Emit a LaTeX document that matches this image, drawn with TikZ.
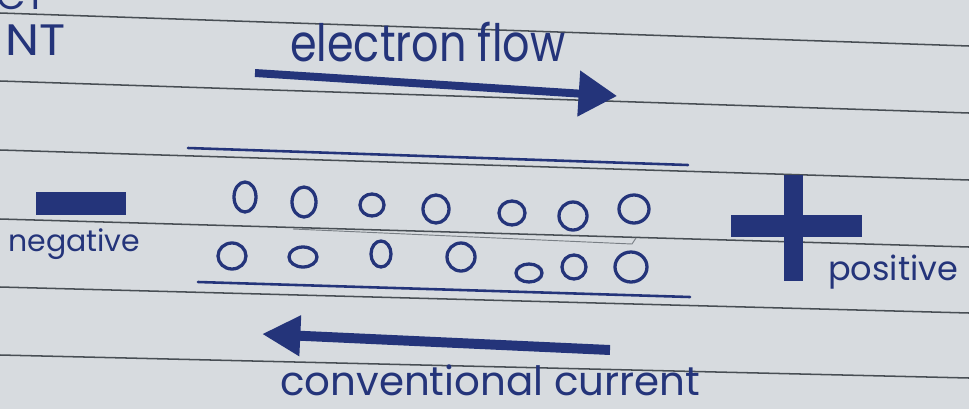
\documentclass[tikz,border=0pt]{standalone}
\usepackage{fontspec}
\setmainfont{Poppins}
\usepackage{graphicx}
\usetikzlibrary{arrows.meta}
\definecolor{paper}{RGB}{215,219,223}
\definecolor{ruling}{RGB}{72,78,84}
\definecolor{pencil}{RGB}{120,126,132}
\definecolor{ink}{RGB}{36,52,122}

\begin{document}
\begin{tikzpicture}[x=0.03cm,y=-0.03cm,
  ruled/.style={draw=ruling, line width=1.3pt},
  wire/.style={draw=ink, line width=2.2pt, line cap=round},
  charge/.style={draw=ink, line width=2.8pt},
  hand/.style={text=ink, inner sep=0pt, anchor=base west}]
\useasboundingbox (0,0) rectangle (969,409);
\clip (0,0) rectangle (969,409);
\fill[paper] (0,0) rectangle (969,409);

% ruled lines of the notebook page
\draw[ruled] (0,13)  -- (969,46);
\draw[ruled] (0,81)  -- (969,113);
\draw[ruled] (0,150) -- (969,180);
\draw[ruled] (0,219) -- (969,247);
\draw[ruled] (0,287) -- (969,313);
\draw[ruled] (0,355) -- (969,378);

% faint pencil stroke between the rows of charges
\draw[pencil, line width=0.8pt] (293,229) -- (632,244) -- (636,238);

% headings (the first one runs off the top of the page)
\node[hand] (ct) at (-4,9) {\resizebox{1.5cm}{!}{CT}};
\node[hand] (nt) at (5,55) {\resizebox{1.8cm}{0.92cm}{NT}};
\node[hand] (eflow) at (290,61) {\resizebox{8.25cm}{1.18cm}{electron flow}};

% electron flow arrow
\coordinate (ef-start) at (255,73);
\coordinate (ef-tip) at (617,96);
\draw[ink, line width=6.8pt, -{Triangle[length=1.15cm,width=1.32cm]}] (ef-start) -- (ef-tip);

% conductor edges
\coordinate (top-a) at (188,148);
\coordinate (top-b) at (688,165);
\coordinate (bot-a) at (198,282);
\coordinate (bot-b) at (690,297);
\draw[wire] (top-a) -- (top-b);
\draw[wire] (bot-a) -- (bot-b);

% charges inside the conductor
\foreach \x/\y/\a/\b in {245/197/11/15, 304/202/12/15, 372/205/12/11, 436/209/13/14,
                         512/213/13/12, 573/216/14/14, 634/209/15/14}
  \draw[charge] (\x,\y) ellipse [x radius=\a, y radius=\b];
\foreach \x/\y/\a/\b in {232/256/14/13, 303/257/14/10, 381/254/10/13, 461/257/14/14,
                         529/273/13/9, 574/267/12/12, 631/267/16/15}
  \draw[charge] (\x,\y) ellipse [x radius=\a, y radius=\b];

% negative terminal
\fill[ink] (36,192) rectangle (126,215);
\node[hand] (neg) at (8,251) {\resizebox{3.96cm}{!}{negative}};

% positive terminal
\fill[ink] (784,175) rectangle (803,281);
\fill[ink] (731,215) rectangle (862,237);
\node[hand] (pos) at (828,280) {\resizebox{3.9cm}{!}{positive}};

% conventional current arrow
\coordinate (cc-start) at (610,350);
\coordinate (cc-tip) at (262,334);
\draw[ink, line width=8.5pt, -{Triangle[length=1.15cm,width=1.15cm]}] (cc-start) -- (cc-tip);
\node[hand] (conv) at (280,395) {\resizebox{12.6cm}{!}{conventional current}};
\end{tikzpicture}
\end{document}
